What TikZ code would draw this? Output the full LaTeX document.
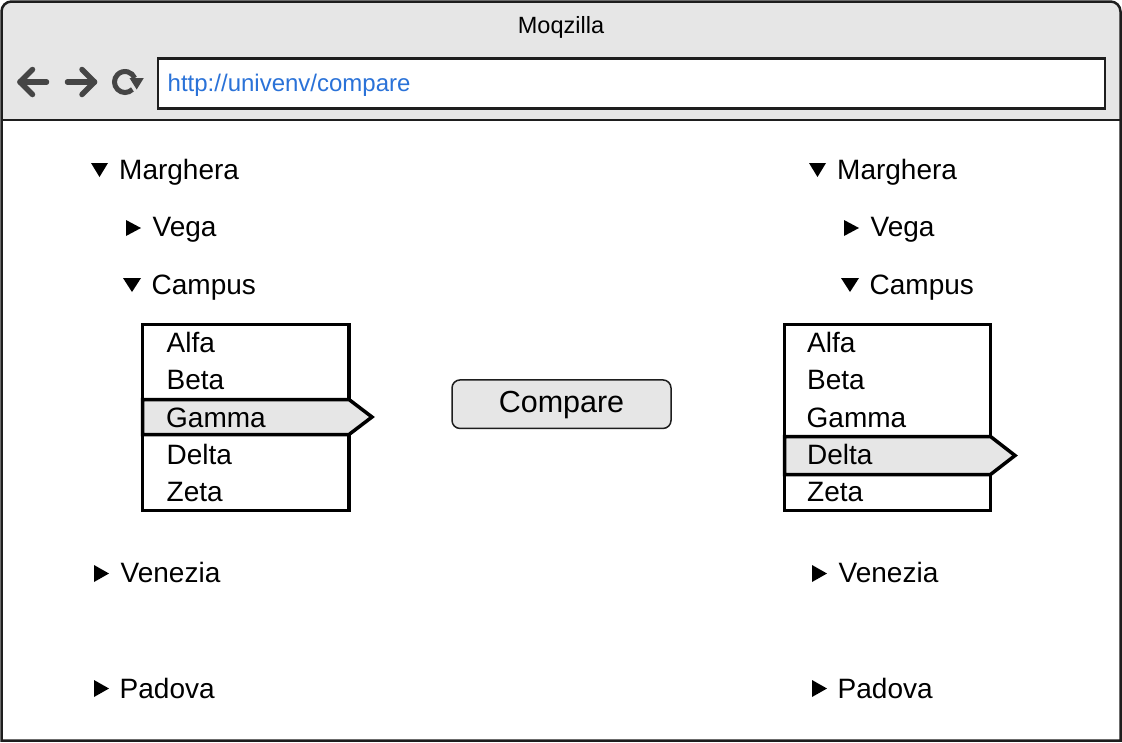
\documentclass[tikz,border=0pt]{standalone}
\usepackage{fontspec}
\setmainfont{Liberation Sans}
\usetikzlibrary{arrows.meta}
\definecolor{barfill}{HTML}{E6E6E6}
\definecolor{strokec}{HTML}{1E1E1E}
\definecolor{urlblue}{HTML}{2A72D8}
\definecolor{icongray}{HTML}{454545}
\tikzset{
  treetext/.style={anchor=base west, inner sep=0pt, font=\fontsize{28}{30}\selectfont},
  tri/.style={fill=black, draw=none},
  listbox/.style={draw=black, line width=3.5pt},
  icon/.style={draw=icongray, line width=5.5pt, line cap=round, line join=round},
  frame/.style={draw=strokec, line width=2.5pt},
}
\begin{document}
\begin{tikzpicture}[x=1pt,y=-1pt]
\useasboundingbox (0,0) rectangle (1122,742);
% window
\fill[white] (1.5,1.5) rectangle (1120.5,740.5);
\fill[barfill] (1.5,120) -- (1.5,11.5) arc[start angle=180,end angle=270,radius=10]
  -- (1110.5,1.5) arc[start angle=270,end angle=360,radius=10] -- (1120.5,120) -- cycle;
\draw[frame] (1.5,740.5) -- (1.5,11.5) arc[start angle=180,end angle=270,radius=10]
  -- (1110.5,1.5) arc[start angle=270,end angle=360,radius=10] -- (1120.5,740.5) -- cycle;
\draw[frame] (1.5,120) -- (1120.5,120);
\node[anchor=base, inner sep=0pt, font=\fontsize{23.5}{25}\selectfont] (title) at (561,33.5) {Moqzilla};
% url box
\draw[frame, fill=white] (158,58.5) rectangle (1105,108.3);
\node[anchor=base west, inner sep=0pt, text=urlblue, font=\fontsize{24}{26}\selectfont] (url) at (167.5,91) {http://univenv/compare};
% icons
\draw[icon] (20,82) -- (46.5,82);
\draw[icon] (32.5,69.5) -- (20,82) -- (32.5,94.5);
\draw[icon] (67.5,82) -- (94.5,82);
\draw[icon] (82,69.5) -- (94.5,82) -- (82,94.5);
\draw[draw=icongray, line width=5pt] (125,82) ++(45:10.5) arc[start angle=45,end angle=338,radius=10.5];
\fill[icongray] (129.5,78) -- (143.8,78) -- (136.7,89.5) -- cycle;
% left tree
\fill[tri] (91,163) -- (108,163) -- (99.5,177) -- cycle;
\node[treetext] (lmarg) at (119,179) {Marghera};
\fill[tri] (126,220) -- (126,236) -- (141,228) -- cycle;
\node[treetext] (lvega) at (152.5,236.5) {Vega};
\fill[tri] (123,278) -- (141,278) -- (132,292) -- cycle;
\node[treetext] (lcamp) at (151.5,294) {Campus};
\fill[tri] (94,565) -- (94,582) -- (109,573.5) -- cycle;
\node[treetext] (lvene) at (120.5,582.5) {Venezia};
\fill[tri] (94,680) -- (94,697) -- (109,688.5) -- cycle;
\node[treetext] (lpado) at (119.5,698) {Padova};
% left list
\draw[listbox] (142.5,324.5) rectangle (349,510.5);
\draw[listbox, fill=barfill, line join=miter] (142.5,399.5) -- (349,399.5) -- (372,417) -- (349,434.5) -- (142.5,434.5) -- cycle;
\node[treetext] (la) at (166.5,352) {Alfa};
\node[treetext] (lb) at (166.5,389.5) {Beta};
\node[treetext] (lg) at (166,427) {Gamma};
\node[treetext] (ld) at (166.5,464.5) {Delta};
\node[treetext] (lz) at (166.5,501.5) {Zeta};
% compare button
\node[draw=strokec, fill=barfill, rounded corners=8pt, line width=1.5pt, minimum width=219pt, minimum height=48.5pt, inner sep=0pt] (cmp) at (561.5,404.2) {};
\node[anchor=base, inner sep=0pt, font=\fontsize{30.5}{33}\selectfont] (cmptext) at (561.5,412) {Compare};
% right tree
\fill[tri] (809,163) -- (826,163) -- (817.5,177) -- cycle;
\node[treetext] (rmarg) at (837,179) {Marghera};
\fill[tri] (844,220) -- (844,236) -- (859,228) -- cycle;
\node[treetext] (rvega) at (870.5,236.5) {Vega};
\fill[tri] (841,278) -- (859,278) -- (850,292) -- cycle;
\node[treetext] (rcamp) at (869.5,294) {Campus};
\fill[tri] (812,565) -- (812,582) -- (827,573.5) -- cycle;
\node[treetext] (rvene) at (838.5,582.5) {Venezia};
\fill[tri] (812,680) -- (812,697) -- (827,688.5) -- cycle;
\node[treetext] (rpado) at (837.5,698) {Padova};
% right list
\draw[listbox] (784.5,324.5) rectangle (990.5,510.5);
\draw[listbox, fill=barfill, line join=miter] (784.5,436.5) -- (990.5,436.5) -- (1015,455.5) -- (990.5,474.5) -- (784.5,474.5) -- cycle;
\node[treetext] (ra) at (807,352) {Alfa};
\node[treetext] (rb) at (807,389.5) {Beta};
\node[treetext] (rg) at (806.5,427) {Gamma};
\node[treetext] (rd) at (807,464.5) {Delta};
\node[treetext] (rz) at (807,501.5) {Zeta};
\end{tikzpicture}
\end{document}
